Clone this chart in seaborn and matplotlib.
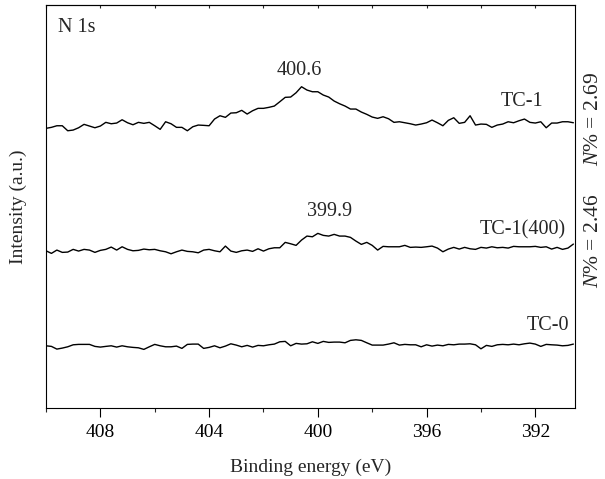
import numpy as np
import pandas as pd
import seaborn as sns
import matplotlib.pyplot as plt
from matplotlib.ticker import MultipleLocator

# binding energy grid (eV), 0.2 eV steps from 410 down to 390.6
energy = np.linspace(410, 390.6, 98)

# intensities (a.u.), stacked offsets included
tc1 = [279.7, 280.7, 282.3, 282.3, 277.3, 278.0, 280.3, 283.7, 282.0, 280.3,
       282.0, 285.7, 284.3, 285.0, 288.3, 285.3, 283.3, 285.7, 284.7, 285.7,
       282.3, 278.7, 286.3, 284.3, 280.7, 280.7, 277.3, 281.3, 283.0, 282.7,
       282.3, 289.0, 292.3, 290.7, 295.0, 295.3, 297.7, 294.0, 297.3, 299.7,
       299.7, 300.7, 302.0, 306.3, 310.7, 311.0, 315.3, 321.3, 318.0,
       316.3, 316.3, 313.0, 311.0, 307.0, 304.3, 302.0, 299.0, 299.0, 296.0,
       293.7, 291.0, 289.7, 291.3, 289.3, 285.7, 286.3, 285.3, 284.3, 283.0,
       284.0, 285.3, 288.0, 285.3, 282.3, 287.7, 290.3, 284.7, 285.7, 292.3,
       283.0, 284.0, 283.7, 280.7, 283.0, 284.0, 286.3, 285.3, 287.3, 289.0,
       285.7, 285.0, 286.3, 280.3, 285.0, 285.0, 286.3, 286.3, 285.3]

tc1_400 = [157.3, 154.7, 158.0, 155.7, 156.0, 158.7, 157.0, 158.7, 158.0, 155.7,
           157.7, 158.7, 161.0, 158.0, 161.3, 158.7, 157.3, 157.7, 159.0, 158.3,
           158.7, 157.3, 156.3, 154.3, 156.3, 158.0, 156.7, 156.3, 155.3, 158.0,
           158.7, 157.3, 156.3, 162.0, 157.0, 155.7, 157.3, 158.0, 156.7, 159.3,
           157.0, 159.3, 160.3, 160.3, 165.7, 164.3, 162.7, 168.0, 172.0,
           171.3, 174.7, 172.7, 172.0, 173.7, 172.0, 172.0, 170.7, 167.0, 163.7,
           165.7, 162.7, 158.0, 161.7, 161.3, 161.3, 161.3, 162.7, 160.7, 161.0,
           160.7, 161.3, 162.0, 160.0, 156.3, 159.0, 160.7, 159.0, 160.7, 159.3,
           158.7, 160.7, 160.0, 161.3, 160.3, 160.7, 160.0, 161.7, 161.3, 161.3,
           161.3, 161.7, 160.7, 161.3, 159.0, 160.7, 158.7, 160.0, 164.0]

tc0 = [62.3, 61.7, 59.0, 60.0, 61.3, 63.3, 63.7, 63.7, 63.7, 61.7,
       61.0, 61.7, 62.3, 61.0, 62.3, 61.3, 60.7, 60.3, 58.7, 61.3,
       63.7, 62.3, 61.3, 61.3, 62.0, 59.7, 63.7, 64.0, 64.0, 59.7,
       60.7, 62.3, 60.3, 62.0, 64.3, 63.0, 61.3, 62.7, 61.0, 62.7,
       62.3, 63.3, 64.0, 66.3, 66.7, 62.3, 64.7, 64.0, 64.3,
       66.3, 64.7, 66.7, 65.7, 66.0, 66.0, 65.3, 67.7, 68.3, 67.7,
       65.3, 63.0, 63.0, 63.0, 64.0, 65.3, 63.0, 63.7, 63.3, 63.3,
       61.3, 63.3, 62.0, 63.0, 62.3, 63.7, 63.3, 64.0, 64.0, 64.3,
       63.3, 59.3, 62.7, 61.7, 63.3, 63.7, 63.3, 64.0, 63.3, 64.3,
       65.0, 64.0, 61.7, 63.7, 63.3, 63.0, 62.3, 62.7, 64.0]

samples = ["TC-1", "TC-1(400)", "TC-0"]
n_content = ["2.69", "2.46"]

df = pd.concat([
    pd.DataFrame({"energy": energy, "intensity": vals, "sample": name})
    for name, vals in zip(samples, [tc1, tc1_400, tc0])
])

sns.set_style("ticks")
plt.rcParams["font.family"] = ["Liberation Serif", "DejaVu Serif"]
plt.rcParams["mathtext.fontset"] = "custom"
plt.rcParams["mathtext.it"] = "Liberation Serif:italic"
plt.rcParams["mathtext.rm"] = "Liberation Serif"

fig = plt.figure(figsize=(6.05, 4.79), dpi=100)
ax = fig.add_axes([0.076, 0.148, 0.874, 0.8415])

sns.lineplot(data=df, x="energy", y="intensity", units="sample",
             estimator=None, color="black", lw=1.0, ax=ax)

ax.set_xlim(410, 390.55)
ax.set_ylim(0, 403)
ax.xaxis.set_major_locator(MultipleLocator(4))
ax.xaxis.set_minor_locator(MultipleLocator(2))
ax.set_yticks([])
ax.tick_params(axis="x", which="major", direction="out", length=6.5,
               width=0.8, labelsize=14, colors="black", pad=5)
ax.tick_params(axis="x", which="minor", direction="out", length=3, width=0.8)
for s in ax.spines.values():
    s.set_visible(True)
    s.set_linewidth(0.8)
    s.set_color("black")

top = ax.secondary_xaxis("top")
top.xaxis.set_major_locator(MultipleLocator(2))
top.tick_params(direction="in", length=2.5, width=0.8, labeltop=False)

ax.set_xlabel("Binding energy (eV)", fontsize=14, labelpad=13)
ax.set_ylabel("Intensity (a.u.)", fontsize=14, labelpad=14)

fs = 14.5
ax.text(409.55, 381, "N 1s", fontsize=fs, va="center", ha="left")
ax.text(400.68, 338, "400.6", fontsize=fs, va="center", ha="center")
ax.text(392.5, 307, samples[0], fontsize=fs, va="center", ha="center")
ax.text(399.58, 197, "399.9", fontsize=fs, va="center", ha="center")
ax.text(392.45, 178, samples[1], fontsize=fs, va="center", ha="center")
ax.text(391.55, 83, samples[2], fontsize=fs, va="center", ha="center")

ax.text(1.036, 1 - (119 - 5) / 403, "$N$% = " + n_content[0], fontsize=15.5,
        rotation=90, va="center", ha="center", transform=ax.transAxes)
ax.text(1.036, 1 - (241 - 5) / 403, "$N$% = " + n_content[1], fontsize=15.5,
        rotation=90, va="center", ha="center", transform=ax.transAxes)

fig.savefig("out.png", dpi=100)
